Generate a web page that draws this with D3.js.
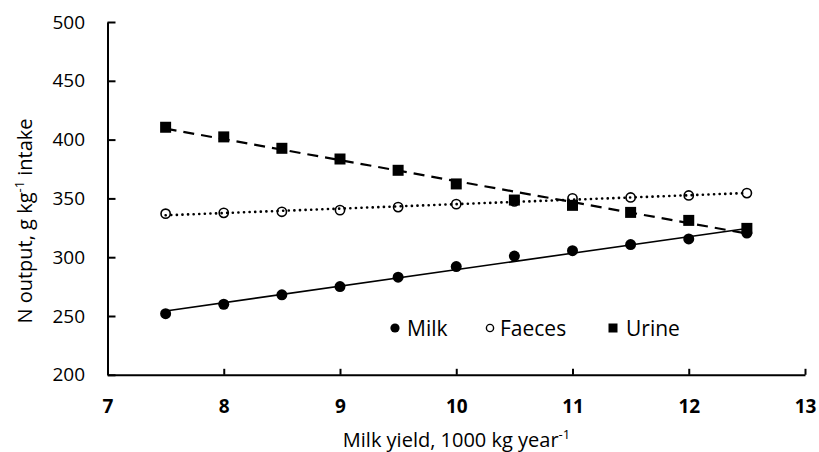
<!DOCTYPE html>
<html>
<head>
<meta charset="utf-8">
<script src="https://cdn.jsdelivr.net/npm/d3@7"></script>
<style>
  html, body { margin: 0; padding: 0; background: #fff; }
  svg { display: block; }
  text { font-family: "Open Sans", "Noto Sans", sans-serif; fill: #000; }
</style>
</head>
<body>
<svg id="chart" width="819" height="452"></svg>
<script>
const milkYield = [7.5, 8, 8.5, 9, 9.5, 10, 10.5, 11, 11.5, 12, 12.5];
const milkN   = [252, 260, 268, 275, 283, 292, 301, 305.5, 310.7, 315.5, 320.5];
const faecesN = [337, 337.7, 338.6, 340, 342.6, 345.1, 347.5, 350, 350.8, 352.5, 354.5];
const urineN  = [410.5, 402.3, 392.6, 383.5, 373.9, 362.3, 348.6, 344.1, 338.1, 331.3, 324.5];
const xTicks = [7, 8, 9, 10, 11, 12, 13];
const yTicks = [200, 250, 300, 350, 400, 450, 500];
const seriesNames = ["Milk", "Faeces", "Urine"];

const svg = d3.select("#chart");
const pLeft = 107.5, pRight = 805, pTop = 22, pBottom = 374.8;

const x = d3.scaleLinear().domain([7, 13]).range([pLeft, pRight]);
const y = d3.scaleLinear().domain([200, 500]).range([pBottom, pTop]);

// axes
const gx = svg.append("g").attr("transform", `translate(0,${pBottom})`)
  .call(d3.axisBottom(x).tickValues(xTicks).tickFormat(d3.format("d"))
    .tickSizeInner(-6).tickSizeOuter(0).tickPadding(24.5));
const gy = svg.append("g").attr("transform", `translate(${pLeft},0)`)
  .call(d3.axisLeft(y).tickValues(yTicks).tickFormat(d3.format("d"))
    .tickSizeInner(-8).tickSizeOuter(0).tickPadding(22.5));
[gx, gy].forEach(g => {
  g.select(".domain").attr("stroke", "#000").attr("stroke-width", 2);
  g.selectAll(".tick line").attr("stroke", "#000").attr("stroke-width", 2);
  g.selectAll(".tick text").attr("fill", "#000").style("font-family", '"Open Sans", sans-serif');
});
gx.selectAll(".tick text").style("font-size", "19px").style("font-weight", "bold");
gy.selectAll(".tick text").style("font-size", "19px");

// regression trend lines
function fit(xs, ys) {
  const n = xs.length, mx = d3.mean(xs), my = d3.mean(ys);
  let sxy = 0, sxx = 0;
  for (let i = 0; i < n; i++) { sxy += (xs[i]-mx)*(ys[i]-my); sxx += (xs[i]-mx)**2; }
  const b = sxy / sxx, a = my - b*mx;
  return v => a + b*v;
}
const x0 = d3.min(milkYield), x1 = d3.max(milkYield);
const series = [
  { name: seriesNames[0], vals: milkN, dash: null, width: 1.6 },
  { name: seriesNames[1], vals: faecesN, dash: "0.1 5.5", width: 2.6, cap: "round" },
  { name: seriesNames[2], vals: urineN, dash: "11 7", width: 2.2 }
];
series.forEach(s => {
  const f = fit(milkYield, s.vals);
  svg.append("line")
    .attr("x1", x(x0)).attr("y1", y(f(x0)))
    .attr("x2", x(x1)).attr("y2", y(f(x1)))
    .attr("stroke", "#000").attr("stroke-width", s.width)
    .attr("stroke-dasharray", s.dash)
    .attr("stroke-linecap", s.cap || "butt");
});

// markers
svg.append("g").selectAll("circle").data(milkYield)
  .join("circle").attr("cx", (d) => x(d)).attr("cy", (d, i) => y(milkN[i]))
  .attr("r", 5.5).attr("fill", "#000");
svg.append("g").selectAll("circle").data(milkYield)
  .join("circle").attr("cx", (d) => x(d)).attr("cy", (d, i) => y(faecesN[i]))
  .attr("r", 4.6).attr("fill", "none").attr("stroke", "#000").attr("stroke-width", 1.6);
svg.append("g").selectAll("rect").data(milkYield)
  .join("rect").attr("x", (d) => x(d) - 5.5).attr("y", (d, i) => y(urineN[i]) - 5.5)
  .attr("width", 11).attr("height", 11).attr("fill", "#000");

// legend
const lg = svg.append("g").attr("transform", "translate(0,328)");
lg.append("circle").attr("cx", 395).attr("cy", 0).attr("r", 4.6).attr("fill", "#000");
lg.append("text").attr("x", 407).attr("y", 7.5).style("font-size", "21px").text(seriesNames[0]);
lg.append("circle").attr("cx", 490).attr("cy", 0).attr("r", 3.6).attr("fill", "none").attr("stroke", "#000").attr("stroke-width", 1.4);
lg.append("text").attr("x", 500).attr("y", 7.5).style("font-size", "21px").text(seriesNames[1]);
lg.append("rect").attr("x", 608.5).attr("y", -4.5).attr("width", 9).attr("height", 9).attr("fill", "#000");
lg.append("text").attr("x", 626).attr("y", 7.5).style("font-size", "21px").text(seriesNames[2]);

// axis titles
const xt = svg.append("text").attr("x", 456.5).attr("y", 447)
  .attr("text-anchor", "middle").style("font-size", "20px");
xt.append("tspan").text("Milk yield, 1000 kg year");
xt.append("tspan").attr("dy", -8).style("font-size", "13px").text("-1");

const yt = svg.append("text")
  .attr("transform", "translate(32,221) rotate(-90)")
  .attr("text-anchor", "middle").style("font-size", "20px");
yt.append("tspan").text("N output, g kg");
yt.append("tspan").attr("dy", -8).style("font-size", "13px").text("-1");
yt.append("tspan").attr("dy", 8).text(" intake");
</script>
</body>
</html>
